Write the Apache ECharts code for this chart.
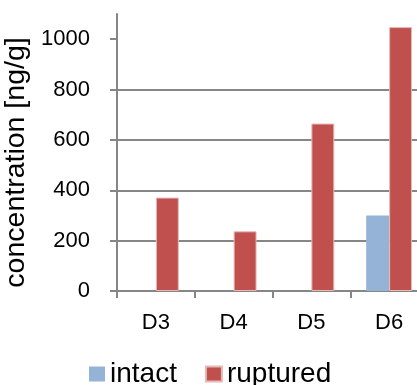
<!DOCTYPE html>
<html><head><meta charset="utf-8">
<script src="https://cdn.jsdelivr.net/npm/echarts@6/dist/echarts.min.js"></script>
<style>html,body{margin:0;padding:0;background:#fff}#c{width:417px;height:385px}</style>
</head><body><div id="c"></div>
<script>
const categories = ['D3', 'D4', 'D5', 'D6'];
const intact = [0, 0, 0, 300];
const ruptured = [371, 237, 665, 1048];
const yTicks = [0, 200, 400, 600, 800, 1000];

const chart = echarts.init(document.getElementById('c'), null, {renderer: 'canvas'});
const font = 'Liberation Sans, Arial, sans-serif';
chart.setOption({
  animation: false,
  grid: {left: 117, top: 14, bottom: 94, right: -11, containLabel: false, outerBoundsMode: 'none'},
  legend: {
    data: ['intact', 'ruptured'],
    left: 84, top: 355,
    itemWidth: 16, itemHeight: 15, itemGap: 28,
    icon: 'rect',
    textStyle: {fontFamily: font, fontSize: 28, color: '#000'}
  },
  xAxis: {
    type: 'category', data: categories,
    axisLine: {lineStyle: {color: '#868686', width: 2}},
    axisTick: {show: true, length: 7, lineStyle: {color: '#868686', width: 2}},
    axisLabel: {fontFamily: font, fontSize: 22, color: '#000', margin: 21}
  },
  yAxis: {
    type: 'value', min: 0, max: 1100, interval: 200,
    name: 'concentration [ng/g]', nameLocation: 'middle', nameGap: 85,
    nameTextStyle: {fontFamily: font, fontSize: 28.5, color: '#000', padding: [0, 20, 0, 0]},
    axisLine: {show: true, lineStyle: {color: '#868686', width: 2}},
    axisTick: {show: true, length: 7, customValues: yTicks, lineStyle: {color: '#868686', width: 2}},
    axisLabel: {fontFamily: font, fontSize: 22, color: '#000', margin: 27, customValues: yTicks,
      formatter: v => String(v)},
    splitLine: {show: true, showMaxLine: false, lineStyle: {color: '#868686', width: 2}}
  },
  series: [
    {name: 'intact', type: 'bar', data: intact, barGap: '0%', barCategoryGap: '41%',
     itemStyle: {color: '#95B3D7'}},
    {name: 'ruptured', type: 'bar', data: ruptured, barGap: '0%', barCategoryGap: '41%',
     itemStyle: {color: '#C0504D', borderColor: '#E6B9B8', borderWidth: 1}}
  ]
});
</script></body></html>
